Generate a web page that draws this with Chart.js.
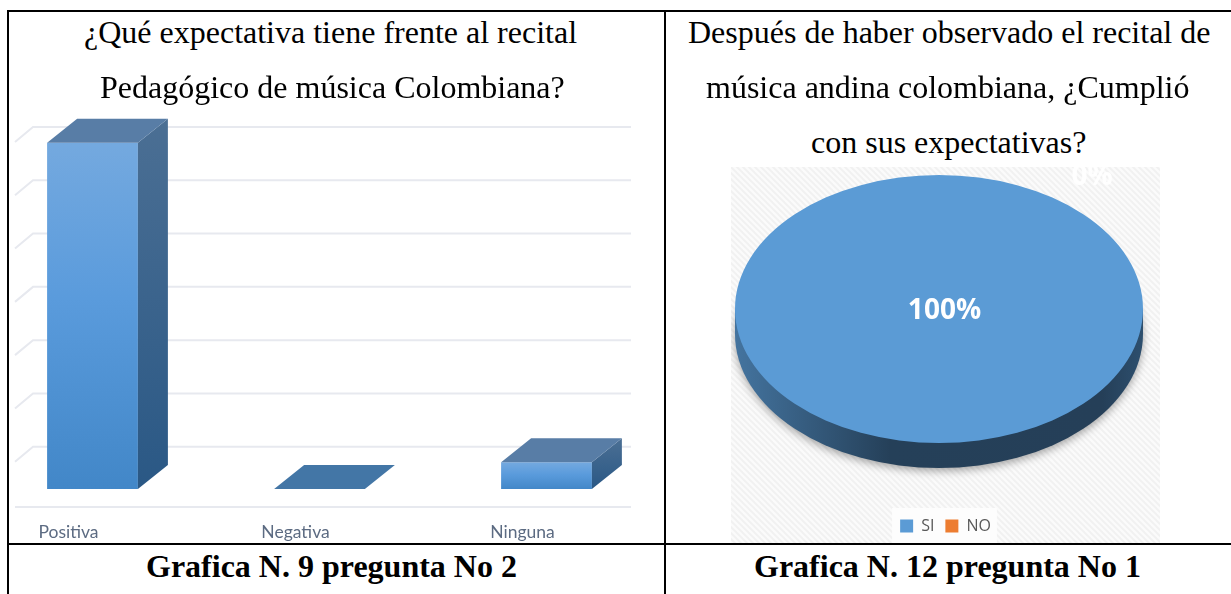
<!DOCTYPE html>
<html>
<head>
<meta charset="utf-8">
<script src="https://cdn.jsdelivr.net/npm/chart.js"></script>
<style>
  html, body { margin: 0; padding: 0; background: #fff; }
  #page { position: relative; width: 1231px; height: 594px; overflow: hidden; }
  canvas { position: absolute; }
  #barChart { left: -21px; top: 100px; }
  #pieChart { left: 731px; top: 167px; }
  .line { position: absolute; background: #000; z-index: 3; }
  .txt { position: absolute; white-space: nowrap; font-family: "Liberation Serif", serif; color: #000; z-index: 2; line-height: 34px; }
  .title { font-size: 32px; }
  .caption { font-size: 32px; font-weight: bold; }
</style>
</head>
<body>
<div id="page">
  <canvas id="barChart" width="681" height="444"></canvas>
  <canvas id="pieChart" width="429" height="377"></canvas>
  <div class="line" style="left:7px;top:10px;width:1224px;height:2px"></div>
  <div class="line" style="left:7px;top:10px;width:2px;height:584px"></div>
  <div class="line" style="left:664px;top:10px;width:2px;height:584px"></div>
  <div class="line" style="left:7px;top:543px;width:1224px;height:2px"></div>
  <div class="txt title" style="left:84px;top:15px">¿Qué expectativa tiene frente al recital</div>
  <div class="txt title" style="left:100px;top:70px">Pedagógico de música Colombiana?</div>
  <div class="txt title" style="left:688px;top:15px">Después de haber observado el recital de</div>
  <div class="txt title" style="left:706px;top:70px">música andina colombiana, ¿Cumplió</div>
  <div class="txt title" style="left:811px;top:125px">con sus expectativas?</div>
  <div class="txt caption" style="left:146px;top:549px">Grafica N. 9 pregunta No 2</div>
  <div class="txt caption" style="left:754px;top:549px">Grafica N. 12 pregunta No 1</div>
</div>
<script>
  const barLabels = ["Positiva", "Negativa", "Ninguna"];
  const barValues = [65, 0, 5];
  const pieLabels = ["SI", "NO"];
  const pieValues = [100, 0];
  const pieColors = ["#5b9bd5", "#ed7d31"];

  // draws the walls, the floor line and the 3d faces of the bars
  const bar3d = {
    id: "bar3d",
    beforeDatasetsDraw(chart, args, opts) {
      const ctx = chart.ctx;
      const y = chart.scales.y;
      ctx.save();
      ctx.strokeStyle = "#e7e9ef";
      ctx.lineWidth = 2;
      y.ticks.forEach(t => {
        if (t.value === 0) {
          const p = y.getPixelForValue(0) + opts.floorDrop;
          ctx.beginPath();
          ctx.moveTo(opts.gridLeft - opts.wallDx, p);
          ctx.lineTo(opts.gridRight, p);
          ctx.stroke();
          return;
        }
        const p = y.getPixelForValue(t.value) + opts.wallDrop;
        ctx.beginPath();
        ctx.moveTo(opts.gridLeft - opts.wallDx, p + opts.wallDy);
        ctx.lineTo(opts.gridLeft, p);
        ctx.lineTo(opts.gridRight, p);
        ctx.stroke();
      });
      ctx.restore();
    },
    afterDatasetsDraw(chart, args, opts) {
      const ctx = chart.ctx;
      const meta = chart.getDatasetMeta(0);
      meta.data.forEach(b => {
        const l = b.x - b.width / 2;
        const r = b.x + b.width / 2;
        const dx = opts.dx;
        const dy = opts.dy;
        ctx.save();
        if (b.base - b.y > 1) {
          const g = ctx.createLinearGradient(0, b.y - dy, 0, b.base);
          g.addColorStop(0, "#4b6f94");
          g.addColorStop(1, "#2a5885");
          ctx.fillStyle = g;
          ctx.beginPath();
          ctx.moveTo(r, b.y);
          ctx.lineTo(r + dx, b.y - dy);
          ctx.lineTo(r + dx, b.base - dy);
          ctx.lineTo(r, b.base);
          ctx.closePath();
          ctx.fill();
        }
        ctx.fillStyle = b.base - b.y > 1 ? "#587da6" : "#4376a6";
        ctx.beginPath();
        ctx.moveTo(l, b.y);
        ctx.lineTo(l + dx, b.y - dy);
        ctx.lineTo(r + dx, b.y - dy);
        ctx.lineTo(r, b.y);
        ctx.closePath();
        ctx.fill();
        ctx.restore();
      });
    }
  };

  new Chart(document.getElementById("barChart"), {
    type: "bar",
    data: {
      labels: barLabels,
      datasets: [{
        data: barValues,
        barPercentage: 0.4,
        categoryPercentage: 1,
        clip: false,
        backgroundColor(c) {
          const y = c.chart.scales.y;
          const top = y.getPixelForValue(c.raw);
          const base = y.getPixelForValue(0);
          if (!Number.isFinite(top) || !Number.isFinite(base)) return "#5b9bd5";
          const g = c.chart.ctx.createLinearGradient(0, top, 0, base);
          g.addColorStop(0, "#74a9df");
          g.addColorStop(0.45, "#5a9bdc");
          g.addColorStop(1, "#4287c8");
          return g;
        }
      }]
    },
    plugins: [bar3d],
    options: {
      responsive: false,
      animation: false,
      layout: { padding: { top: 16, bottom: 0 } },
      scales: {
        x: {
          afterFit(scale) { scale.height = 55; },
          grid: { display: false },
          border: { display: false },
          ticks: {
            color: "#5c6b82",
            font: { family: "Lato", size: 17.5 },
            padding: 25,
            labelOffset: -24,
            maxRotation: 0,
            autoSkip: false
          }
        },
        y: {
          display: false,
          min: 0,
          max: 70,
          ticks: { stepSize: 10 }
        }
      },
      plugins: {
        legend: { display: false },
        tooltip: { enabled: false },
        bar3d: { dx: 30, dy: 24, gridLeft: 54, gridRight: 652, wallDx: 18, wallDy: 15, wallDrop: 11, floorDrop: 18 }
      }
    }
  });

  // hatched panel, squashed pie with a rim, and the percent labels
  const pie3d = {
    id: "pie3d",
    beforeDraw(chart) {
      const ctx = chart.ctx;
      const tile = document.createElement("canvas");
      tile.width = 6;
      tile.height = 6;
      const t = tile.getContext("2d");
      t.fillStyle = "#fbfbfb";
      t.fillRect(0, 0, 6, 6);
      t.strokeStyle = "#f1f1f1";
      t.lineWidth = 2;
      [[-1, -1, 7, 7], [5, -1, 7, 1], [-1, 5, 1, 7]].forEach(s => {
        t.beginPath();
        t.moveTo(s[0], s[1]);
        t.lineTo(s[2], s[3]);
        t.stroke();
      });
      ctx.save();
      ctx.fillStyle = ctx.createPattern(tile, "repeat");
      ctx.fillRect(0, 0, chart.width, chart.height);
      const boxes = chart.legend.legendHitBoxes;
      const first = boxes[0];
      const last = boxes[boxes.length - 1];
      ctx.fillStyle = "#fdfdfd";
      ctx.fillRect(first.left - 8, first.top - 10, last.left + last.width - first.left + 14, chart.height - first.top + 10);
      ctx.restore();
    },
    beforeDatasetsDraw(chart, args, opts) {
      const ctx = chart.ctx;
      const arc = chart.getDatasetMeta(0).data[0];
      const rx = opts.rx;
      const ry = opts.ry;
      ctx.save();
      const g = ctx.createLinearGradient(opts.cx - rx, 0, opts.cx + rx, 0);
      g.addColorStop(0, "#44749f");
      g.addColorStop(0.38, "#254059");
      g.addColorStop(0.9, "#253f58");
      g.addColorStop(1, "#2d4f6e");
      ctx.fillStyle = g;
      ctx.shadowColor = "rgba(0,0,0,0.35)";
      ctx.shadowBlur = 9;
      ctx.shadowOffsetY = 3;
      ctx.beginPath();
      ctx.ellipse(opts.cx, opts.cy + opts.depth, rx, ry, 0, 0, Math.PI * 2);
      ctx.fill();
      ctx.shadowColor = "transparent";
      ctx.beginPath();
      ctx.rect(opts.cx - rx, opts.cy, rx * 2, opts.depth);
      ctx.fill();
      ctx.restore();

      ctx.save();
      ctx.translate(opts.cx, opts.cy);
      ctx.scale(rx / arc.outerRadius, ry / arc.outerRadius);
      ctx.translate(-arc.x, -arc.y);
    },
    afterDatasetsDraw(chart, args, opts) {
      const ctx = chart.ctx;
      ctx.restore();
      ctx.save();
      ctx.textAlign = "center";
      ctx.textBaseline = "middle";
      ctx.font = "bold 28px 'Open Sans'";
      chart.data.datasets[0].data.forEach((v, i) => {
        ctx.fillStyle = i === 0 ? "#ffffff" : "rgba(255,255,255,0.92)";
        ctx.fillText(v + "%", opts.labelPos[i][0], opts.labelPos[i][1]);
      });
      ctx.restore();
    }
  };

  new Chart(document.getElementById("pieChart"), {
    type: "pie",
    data: {
      labels: pieLabels,
      datasets: [{
        data: pieValues,
        backgroundColor: pieColors,
        borderWidth: 0,
        clip: false
      }]
    },
    plugins: [pie3d],
    options: {
      responsive: false,
      animation: false,
      plugins: {
        tooltip: { enabled: false },
        legend: {
          position: "bottom",
          labels: {
            color: "#595959",
            font: { family: "Open Sans", size: 16 },
            boxWidth: 13,
            boxHeight: 13,
            padding: 11
          }
        },
        pie3d: { cx: 208, cy: 142, rx: 204, ry: 134, depth: 25, labelPos: [[213.5, 144], [361, 10]] }
      }
    }
  });
</script>
</body>
</html>
